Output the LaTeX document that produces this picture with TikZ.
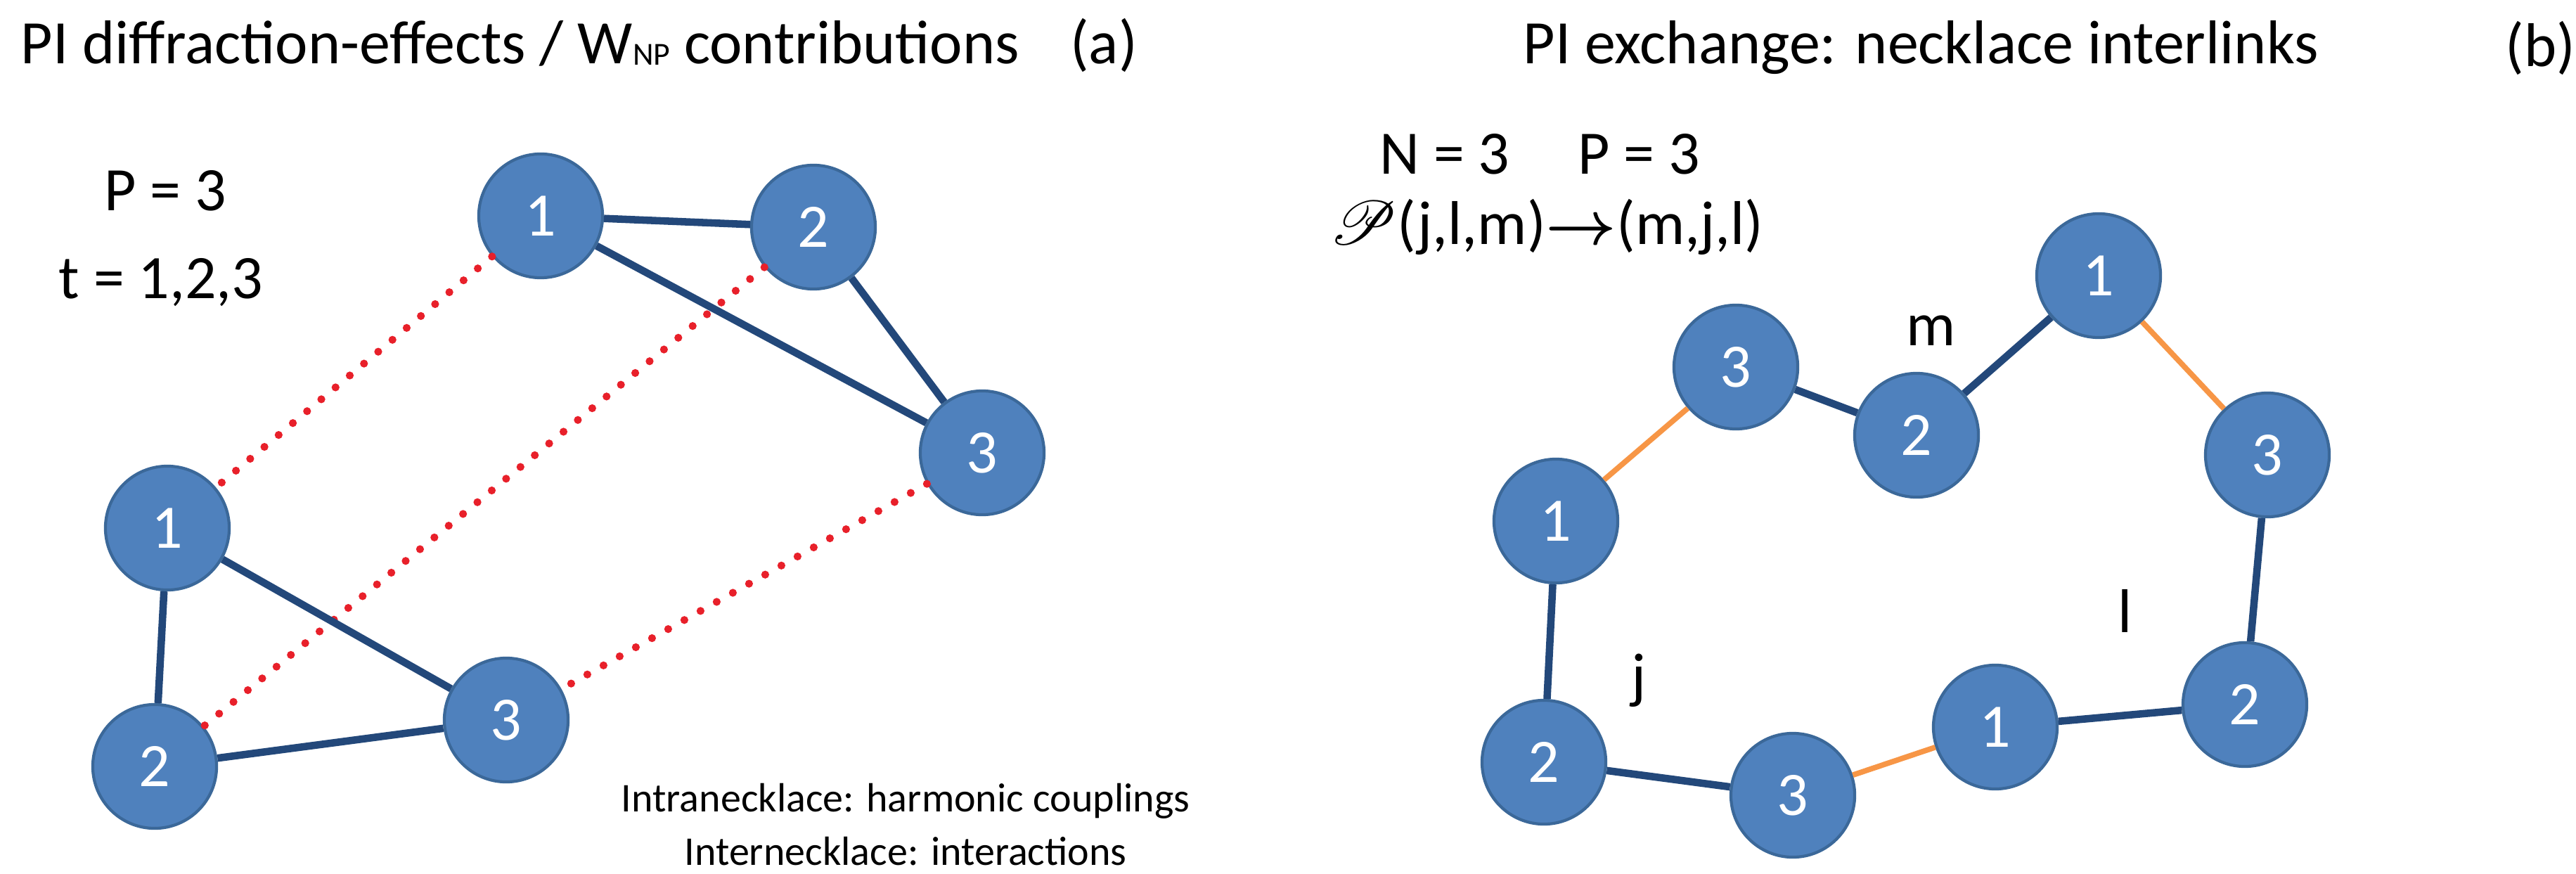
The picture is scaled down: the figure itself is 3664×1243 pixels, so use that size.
\documentclass[tikz,border=0pt]{standalone}
\usepackage{fontspec}
\setmainfont{Carlito}
\usepackage{mathrsfs}
\usepackage{amsmath,bm}
\definecolor{nfill}{HTML}{4F81BD}
\definecolor{ndraw}{HTML}{3B6899}
\definecolor{edge}{HTML}{23487A}
\definecolor{org}{HTML}{F79646}
\definecolor{dotred}{HTML}{E8202A}
\begin{document}
\begin{tikzpicture}[x=0.01cm,y=-0.01cm,
  bead/.style={circle,fill=nfill,draw=ndraw,line width=1.2pt,minimum size=1.76cm,inner sep=0pt,text=white,font=\fontsize{25}{28}\selectfont},
  intra/.style={draw=edge,line width=3pt},
  link/.style={draw=org,line width=2.2pt},
  inter/.style={draw=dotred,line width=3.2pt,dash pattern=on 0pt off 7.5pt,line cap=round},
  big/.style={font=\fontsize{25}{28}\selectfont,inner sep=0pt},
  small/.style={font=\fontsize{16.5}{20}\selectfont,inner sep=0pt}]
\useasboundingbox (0,0) rectangle (3664,1243);
% titles
\node[big,anchor=west] (ta) at (29,64) {PI diffraction-effects / W\raisebox{-0.05ex}{\fontsize{13}{14}\selectfont NP} contributions\hspace{0.6em} (a)};
\node[big,anchor=west] (tb) at (2166,68) {PI exchange: necklace interlinks};
\node[big,anchor=east] (tbl) at (3664,68) {(b)};
% left texts
\node[big] (p) at (235,271) {P = 3};
\node[big] (t) at (229,402) {t = 1,2,3};
\node[small] (i1) at (1288,1139) {Intranecklace: harmonic couplings};
\node[small] (i2) at (1288,1211) {Internecklace: interactions};
% left beads
\node[bead] (a1) at (769,307) {1};
\node[bead] (a2) at (1157,323) {2};
\node[bead] (a3) at (1397,644) {3};
\node[bead] (b1) at (238,751) {1};
\node[bead] (b2) at (220,1090) {2};
\node[bead] (b3) at (720,1024) {3};
\begin{scope}[on background layer/.style={}]
\end{scope}
\draw[inter] (a1) -- (b1);
\draw[inter] (a2) -- (b2);
\draw[inter] (a3) -- (b3);
\draw[intra] (a1) -- (a2);
\draw[intra] (a1) -- (a3);
\draw[intra] (a2) -- (a3);
\draw[intra] (b1) -- (b2);
\draw[intra] (b1) -- (b3);
\draw[intra] (b2) -- (b3);
% right texts
\node[big] (np) at (2190,219) {N = 3\hspace{1.1em}P = 3};
\node[big] (perm) at (2200,323) {$\mathscr{P}$(j,l,m)$\bm{\rightarrow}$(m,j,l)};
\node[big] (lm) at (2747,470) {m};
\node[big] (ll) at (3023,869) {l};
\node[big] (lj) at (2331,968) {j};
% right beads
\node[bead] (c3) at (2469,522) {3};
\node[bead] (c2) at (2726,619) {2};
\node[bead] (c1) at (2985,392) {1};
\node[bead] (d3) at (3225,647) {3};
\node[bead] (d2) at (3193,1002) {2};
\node[bead] (d1) at (2838,1034) {1};
\node[bead] (e3) at (2550,1131) {3};
\node[bead] (e2) at (2196,1084) {2};
\node[bead] (e1) at (2213,741) {1};
\draw[link] (e1) -- (c3);
\draw[intra] (c3) -- (c2);
\draw[intra] (c2) -- (c1);
\draw[link] (c1) -- (d3);
\draw[intra] (d3) -- (d2);
\draw[intra] (d2) -- (d1);
\draw[link] (d1) -- (e3);
\draw[intra] (e3) -- (e2);
\draw[intra] (e2) -- (e1);
\end{tikzpicture}
\end{document}
